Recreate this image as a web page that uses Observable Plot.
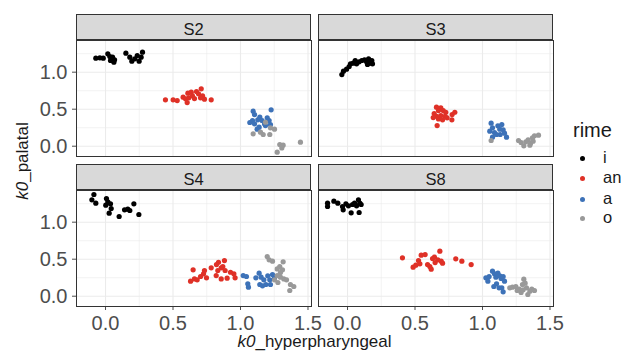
<!DOCTYPE html>
<html>
<head>
<meta charset="utf-8">
<script src="https://cdn.jsdelivr.net/npm/d3@7"></script>
<script src="https://cdn.jsdelivr.net/npm/@observablehq/plot@0.6"></script>
<style>
  html, body { margin: 0; padding: 0; background: #fff; }
  #chart { position: relative; width: 638px; height: 351px; overflow: hidden; font-family: "Liberation Sans", Arial, sans-serif; color: #1A1A1A; }
  .panel { position: absolute; }
  .strip { position: absolute; box-sizing: border-box; height: 26px; width: 235px; background: #D9D9D9; border: 1px solid #333333; text-align: center; font-size: 16.5px; line-height: 24px; padding-top: 2px; color: #1A1A1A; }
  .lab { position: absolute; white-space: nowrap; line-height: 1; }
</style>
</head>
<body>
<div id="chart"></div>
<script>
// ---- categories / labels ----
const speakers = ["S2", "S3", "S4", "S8"];
const rimes = ["i", "an", "a", "o"];
const rimeColors = ["#000000", "#DF3127", "#3D72B8", "#999999"];
const xBreaks = [0, 0.5, 1.0, 1.5];
const yBreaks = [0, 0.5, 1.0];
const xMinor = [0.25, 0.75, 1.25];
const yMinor = [0.25, 0.75, 1.25];
const xTitle = "_hyperpharyngeal";
const yTitle = "_palatal";
const legendTitle = "rime";

// ---- data: [k0_hyperpharyngeal, k0_palatal] ----
const s2_i = [[-0.072,1.189],[-0.042,1.194],[-0.017,1.189],[0.017,1.248],[0.032,1.212],[0.052,1.203],[0.037,1.158],[0.067,1.167],[0.062,1.135],[0.151,1.257],[0.180,1.203],[0.195,1.149],[0.217,1.180],[0.235,1.225],[0.264,1.203],[0.274,1.270],[0.249,1.149]];
const s2_an = [[0.444,0.626],[0.501,0.626],[0.531,0.617],[0.575,0.662],[0.593,0.640],[0.605,0.590],[0.617,0.653],[0.610,0.716],[0.635,0.730],[0.644,0.680],[0.659,0.644],[0.674,0.739],[0.689,0.707],[0.709,0.775],[0.719,0.680],[0.733,0.635],[0.704,0.653],[0.783,0.626]];
const s2_a = [[1.094,0.473],[1.104,0.428],[1.069,0.320],[1.089,0.347],[1.104,0.302],[1.128,0.356],[1.143,0.392],[1.160,0.347],[1.178,0.302],[1.198,0.383],[1.212,0.347],[1.222,0.293],[1.227,0.491],[1.138,0.257],[1.123,0.230],[1.185,0.279]];
const s2_o = [[1.094,0.167],[1.148,0.189],[1.168,0.158],[1.217,0.158],[1.222,0.248],[1.252,0.230],[1.185,0.324],[1.272,-0.081],[1.291,0.023],[1.306,-0.023],[1.316,0.014],[1.444,0.054]];

const s3_i = [[-0.042,0.968],[-0.030,1.014],[-0.007,1.041],[0.012,1.077],[0.022,1.113],[0.042,1.122],[0.057,1.158],[0.067,1.113],[0.086,1.140],[0.106,1.158],[0.126,1.167],[0.141,1.140],[0.156,1.180],[0.165,1.122],[0.180,1.158],[0.185,1.113],[0.148,1.104]];
const s3_an = [[0.659,0.527],[0.691,0.518],[0.674,0.482],[0.709,0.482],[0.728,0.459],[0.642,0.441],[0.659,0.405],[0.691,0.414],[0.723,0.405],[0.635,0.387],[0.674,0.369],[0.704,0.356],[0.738,0.383],[0.775,0.428],[0.795,0.459],[0.773,0.356],[0.664,0.279]];
const s3_a = [[1.064,0.311],[1.074,0.248],[1.054,0.203],[1.089,0.185],[1.074,0.122],[1.114,0.275],[1.128,0.230],[1.143,0.293],[1.153,0.221],[1.163,0.176],[1.178,0.122],[1.131,0.158],[1.104,0.158]];
const s3_o = [[1.064,0.077],[1.267,0.077],[1.286,0.050],[1.306,0.005],[1.321,0.059],[1.338,0.086],[1.356,0.041],[1.370,0.113],[1.385,0.140],[1.415,0.149],[1.351,0.014],[1.375,0.068]];

const s4_i = [[-0.086,1.374],[-0.101,1.302],[-0.072,1.257],[0.007,1.320],[0.017,1.275],[0.002,1.230],[0.037,1.248],[0.042,1.185],[0.027,1.122],[0.101,1.077],[0.141,1.167],[0.165,1.176],[0.180,1.158],[0.210,1.248],[0.247,1.104]];
const s4_an = [[0.630,0.203],[0.659,0.234],[0.679,0.221],[0.649,0.356],[0.704,0.266],[0.726,0.302],[0.733,0.347],[0.748,0.248],[0.783,0.383],[0.820,0.279],[0.832,0.347],[0.837,0.459],[0.857,0.383],[0.869,0.401],[0.881,0.482],[0.886,0.347],[0.857,0.234],[0.901,0.243],[0.926,0.324],[0.951,0.302],[0.960,0.248],[0.822,0.428]];
const s4_a = [[1.020,0.279],[1.044,0.266],[1.054,0.167],[1.059,0.122],[1.114,0.248],[1.138,0.311],[1.153,0.257],[1.143,0.158],[1.173,0.221],[1.188,0.158],[1.202,0.275],[1.217,0.221],[1.237,0.293],[1.222,0.158],[1.252,0.248],[1.163,0.140]];
const s4_o = [[1.198,0.536],[1.212,0.491],[1.237,0.473],[1.272,0.369],[1.291,0.401],[1.296,0.320],[1.316,0.464],[1.311,0.356],[1.272,0.279],[1.252,0.221],[1.277,0.185],[1.321,0.234],[1.341,0.221],[1.370,0.158],[1.395,0.131],[1.365,0.077],[1.296,0.257]];

const s8_i = [[-0.148,1.257],[-0.148,1.212],[-0.101,1.284],[-0.072,1.257],[-0.037,1.212],[-0.032,1.167],[-0.012,1.248],[0.007,1.221],[0.027,1.126],[0.037,1.239],[0.052,1.257],[0.067,1.221],[0.081,1.302],[0.091,1.257],[0.086,1.131],[0.101,1.239]];
const s8_an = [[0.407,0.518],[0.486,0.392],[0.506,0.419],[0.526,0.482],[0.536,0.437],[0.546,0.554],[0.575,0.563],[0.593,0.428],[0.610,0.401],[0.620,0.365],[0.630,0.509],[0.644,0.527],[0.649,0.455],[0.669,0.491],[0.684,0.608],[0.694,0.473],[0.704,0.446],[0.802,0.505],[0.847,0.473],[0.916,0.428]];
const s8_a = [[1.025,0.248],[1.040,0.203],[1.049,0.266],[1.074,0.338],[1.089,0.302],[1.099,0.257],[1.114,0.311],[1.128,0.275],[1.138,0.239],[1.153,0.266],[1.163,0.203],[1.084,0.131],[1.104,0.167],[1.123,0.113],[1.143,0.113],[1.153,0.059]];
const s8_o = [[1.202,0.113],[1.222,0.122],[1.247,0.131],[1.272,0.095],[1.286,0.050],[1.296,0.158],[1.306,0.230],[1.316,0.176],[1.326,0.113],[1.336,0.023],[1.351,0.068],[1.365,0.095],[1.385,0.077],[1.257,0.077],[1.301,0.086]];

const series = {
  S2: [s2_i, s2_an, s2_a, s2_o],
  S3: [s3_i, s3_an, s3_a, s3_o],
  S4: [s4_i, s4_an, s4_a, s4_o],
  S8: [s8_i, s8_an, s8_a, s8_o]
};

const rows = [];
for (const sp of speakers) {
  series[sp].forEach((arr, k) => {
    for (const [x, y] of arr) rows.push({speaker: sp, rime: rimes[k], x, y});
  });
}

// ---- layout ----
const chart = document.getElementById("chart");
const areaW = 235, areaH = 116;
const colLeft = [76, 318], rowTop = [40, 190];
const mL = 45, mR = 2, mT = 2, mB = 35;
const fmt = d3.format(".1f");

speakers.forEach((sp, i) => {
  const col = i % 2, row = Math.floor(i / 2);
  const data = rows.filter(d => d.speaker === sp);
  const svg = Plot.plot({
    width: mL + areaW + mR,
    height: mT + areaH + mB,
    marginLeft: mL, marginRight: mR, marginTop: mT, marginBottom: mB,
    style: {fontSize: "20px", fontFamily: "Liberation Sans, Arial, sans-serif", color: "#4D4D4D", background: "transparent", overflow: "visible"},
    x: {domain: [-0.215, 1.526], axis: row === 1 ? "bottom" : null, ticks: xBreaks, tickFormat: fmt, tickSize: 4, tickPadding: 5, label: null},
    y: {domain: [-0.139, 1.428], axis: col === 0 ? "left" : null, ticks: yBreaks, tickFormat: fmt, tickSize: 4, tickPadding: 5, label: null},
    color: {domain: rimes, range: rimeColors},
    marks: [
      Plot.ruleX(xMinor, {stroke: "#EBEBEB", strokeWidth: 0.6}),
      Plot.ruleY(yMinor, {stroke: "#EBEBEB", strokeWidth: 0.6}),
      Plot.ruleX(xBreaks, {stroke: "#EBEBEB", strokeWidth: 1.1}),
      Plot.ruleY(yBreaks, {stroke: "#EBEBEB", strokeWidth: 1.1}),
      Plot.dot(data, {x: "x", y: "y", fill: "rime", r: 2.6}),
      Plot.frame({stroke: "#333333", strokeWidth: 1})
    ]
  });
  svg.classList.add("panel");
  svg.style.left = (colLeft[col] - mL) + "px";
  svg.style.top = (rowTop[row] - mT) + "px";
  chart.appendChild(svg);

  const strip = document.createElement("div");
  strip.className = "strip";
  strip.style.left = colLeft[col] + "px";
  strip.style.top = (rowTop[row] - 26) + "px";
  strip.textContent = sp;
  chart.appendChild(strip);
});

// axis titles
const xt = document.createElement("div");
xt.className = "lab";
xt.style.cssText += "font-size:17px; left:314.5px; top:333px; transform:translateX(-50%);";
xt.innerHTML = "<i>k0</i>" + xTitle;
chart.appendChild(xt);

const yt = document.createElement("div");
yt.className = "lab";
yt.style.cssText += "font-size:17px; left:22px; top:161px; transform:translate(-50%,-50%) rotate(-90deg);";
yt.innerHTML = "<i>k0</i>" + yTitle;
chart.appendChild(yt);

// legend
const lt = document.createElement("div");
lt.className = "lab";
lt.style.cssText += "font-size:20px; left:573px; top:120px;";
lt.textContent = legendTitle;
chart.appendChild(lt);

const legendY = [158, 178.3, 199, 218.3];
rimes.forEach((r, k) => {
  const dot = document.createElement("div");
  dot.style.cssText = `position:absolute; width:5px; height:5px; border-radius:50%; background:${rimeColors[k]}; left:${582 - 2.5}px; top:${legendY[k] - 2.5}px;`;
  chart.appendChild(dot);
  const t = document.createElement("div");
  t.className = "lab";
  t.style.cssText += `font-size:16.5px; left:603px; top:${legendY[k] - 9.5}px;`;
  t.textContent = r;
  chart.appendChild(t);
});
</script>
</body>
</html>
